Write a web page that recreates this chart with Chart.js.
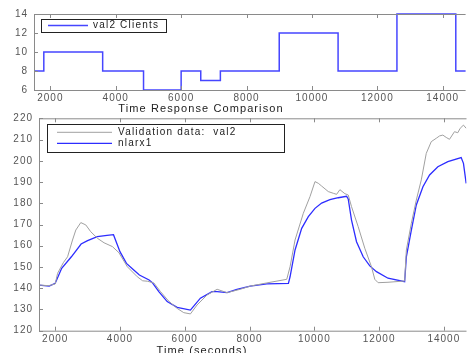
<!DOCTYPE html>
<html>
<head>
<meta charset="utf-8">
<style>
  html, body { margin: 0; padding: 0; background: #fff; }
  #wrap { position: relative; width: 467px; height: 353px; overflow: hidden; }
  canvas { position: absolute; left: 0; }
</style>
</head>
<body>
<div id="wrap">
  <canvas id="topChart" width="467" height="104" style="top:0"></canvas>
  <canvas id="bottomChart" width="467" height="249" style="top:104px"></canvas>
</div>

<script src="https://cdn.jsdelivr.net/npm/chart.js"></script>
<script>
// x ticks shared by both panels
const timeTicks = [2000, 4000, 6000, 8000, 10000, 12000, 14000];
const timeMin = 1500;
const timeMax = 14700;

// top panel: val2 Clients (step signal)
const clientTimes  = [1500, 1800, 3600, 4850, 6000, 6600, 7200, 9000, 10800, 12600, 14400, 14700];
const clientValues = [8, 10, 8, 6, 8, 7, 8, 12, 8, 14, 8, 8];

// bottom panel: Validation data: val2 (gray)
const valTimes = [1500, 1800, 2000, 2074, 2250, 2382, 2535, 2637, 2791, 2945, 3098, 3305, 3508, 3766,
  3969, 4228, 4535, 4700, 4843, 5046, 5252, 5500, 5766, 5969, 6175, 6380, 6688, 7000, 7306, 7715,
  8022, 8535, 9150, 9252, 9406, 9662, 9867, 10022, 10124, 10227, 10432, 10586, 10689, 10791, 10945,
  11048, 11150, 11355, 11560, 11766, 11868, 11971, 12276, 12790, 12843, 12997, 13150, 13304, 13458,
  13612, 13766, 13868, 13970, 14073, 14175, 14329, 14431, 14505, 14606, 14690];
const valValues = [141.5, 141.2, 142, 147, 152, 154.8, 162.7, 167.4, 170.9, 169.8, 166.6, 163.5, 161.4, 159.6,
  156.7, 150.1, 145.4, 143.5, 143.3, 142.5, 138.4, 134, 130.5, 128.5, 127.9, 132.1, 136.8, 139.5, 137.9, 139.5,
  141, 142.5, 144.2, 150.1, 162.7, 175.3, 183.1, 190.2, 189.4, 188.1, 185.5, 184.7, 184.2, 186.4, 184.5,
  183.9, 178.4, 169, 158.8, 150.1, 144.2, 142.6, 142.8, 143.4, 158, 170.6, 181.5, 191, 203.5,
  209, 210.6, 211.7, 212.1, 211, 210.1, 213.7, 213.2, 215.3, 216.8, 215.3];

// bottom panel: nlarx1 (blue)
const fitTimes = [1500, 1815, 2000, 2200, 2500, 2800, 3000, 3300, 3600, 3800, 4000, 4200, 4400, 4600,
  4900, 5000, 5200, 5458, 5766, 6175, 6483, 6843, 7000, 7306, 7612, 8022, 8535, 9201, 9252, 9406,
  9611, 9816, 10022, 10227, 10483, 10740, 10997, 11048, 11150, 11304, 11510, 11714, 11920, 12276,
  12790, 12843, 12997, 13150, 13355, 13560, 13816, 14124, 14535, 14606, 14690];
const fitValues = [141.5, 141, 142.3, 149.4, 154.8, 160.8, 162.4, 164.3, 164.9, 165.2, 157.2, 151.7, 148.9, 146.2,
  143.9, 142.6, 138.4, 133.7, 131, 129.7, 135.3, 138.4, 138.4, 137.9, 139.5, 141, 142, 142.3, 145.4, 158,
  168.2, 173.7, 177.6, 180.1, 181.7, 182.6, 183.3, 182, 172.1, 161.9, 154.8, 150.5, 147.8, 144.7,
  143.1, 154.8, 167.4, 179.2, 187.8, 193.3, 197.2, 199.6, 201.5, 198.8, 189.4];

const toPoints = (xs, ys) => xs.map((x, i) => ({ x: x, y: ys[i] }));

Chart.defaults.font.family = 'Liberation Sans, Arial, sans-serif';
Chart.defaults.font.size = 10;
Chart.defaults.color = '#555';

// axes box, inward ticks, legend and free texts (MATLAB look)
const matlabFrame = {
  id: 'matlabFrame',
  beforeDraw(chart) {
    chart.ctx.letterSpacing = '1px';
  },
  afterDraw(chart, args, opts) {
    const { ctx, chartArea: a, scales } = chart;
    ctx.save();
    ctx.strokeStyle = '#8a8a8a';
    ctx.lineWidth = 1;
    ctx.beginPath();
    ctx.moveTo(a.left + 0.5, a.top + 0.5);
    ctx.lineTo(a.right, a.top + 0.5);
    ctx.moveTo(a.left + 0.5, a.top);
    ctx.lineTo(a.left + 0.5, a.bottom + 0.5);
    ctx.lineTo(a.right, a.bottom + 0.5);
    scales.x.ticks.forEach(t => {
      const px = Math.round(scales.x.getPixelForValue(t.value)) + 0.5;
      ctx.moveTo(px, a.bottom);
      ctx.lineTo(px, a.bottom - 4);
      ctx.moveTo(px, a.top);
      ctx.lineTo(px, a.top + 4);
    });
    scales.y.ticks.forEach(t => {
      const py = Math.round(scales.y.getPixelForValue(t.value)) + 0.5;
      ctx.moveTo(a.left, py);
      ctx.lineTo(a.left + 4, py);
    });
    ctx.stroke();

    // legend box
    const lg = opts.legend;
    ctx.fillStyle = '#fff';
    ctx.fillRect(lg.x, lg.y, lg.w, lg.h);
    ctx.strokeStyle = '#222';
    ctx.strokeRect(lg.x + 0.5, lg.y + 0.5, lg.w, lg.h);
    ctx.font = '10px Liberation Sans, Arial, sans-serif';
    ctx.letterSpacing = '1.2px';
    ctx.textBaseline = 'middle';
    ctx.textAlign = 'left';
    chart.data.datasets.forEach((ds, i) => {
      const ry = lg.rows[i];
      ctx.strokeStyle = ds.borderColor;
      ctx.lineWidth = ds.borderWidth;
      ctx.beginPath();
      ctx.moveTo(lg.lineFrom, ry);
      ctx.lineTo(lg.lineTo, ry);
      ctx.stroke();
      ctx.fillStyle = '#222';
      ctx.fillText(ds.label, lg.textX, ry);
    });

    // free texts
    ctx.font = '11px Liberation Sans, Arial, sans-serif';
    ctx.letterSpacing = '1.1px';
    ctx.textAlign = 'center';
    ctx.fillStyle = '#222';
    (opts.texts || []).forEach(t => ctx.fillText(t.text, t.x, t.y));
    ctx.restore();
  }
};

function xScale(padding) {
  return {
    type: 'linear',
    min: timeMin,
    max: timeMax,
    grid: { display: false, drawTicks: false },
    border: { display: false },
    afterBuildTicks: s => { s.ticks = timeTicks.map(v => ({ value: v })); },
    afterFit: s => { s.height = padding.h; },
    ticks: { padding: padding.p, maxRotation: 0, autoSkip: false, callback: v => String(v) }
  };
}

new Chart(document.getElementById('topChart'), {
  type: 'line',
  data: {
    datasets: [{
      label: 'val2 Clients',
      data: toPoints(clientTimes, clientValues),
      borderColor: 'rgb(70,70,255)',
      borderWidth: 1.5,
      stepped: true,
      pointRadius: 0,
      fill: false,
      clip: 3
    }]
  },
  options: {
    responsive: false,
    animation: false,
    layout: { padding: { left: 0, top: 14, right: 1.4, bottom: 0 } },
    scales: {
      x: xScale({ h: 14, p: 2 }),
      y: {
        min: 6, max: 14,
        grid: { display: false, drawTicks: false },
        border: { display: false },
        afterFit: s => { s.width = 34; },
        ticks: { stepSize: 2, padding: 6 }
      }
    },
    plugins: {
      legend: { display: false },
      tooltip: { enabled: false },
      matlabFrame: {
        legend: { x: 41, y: 19, w: 125, h: 13, rows: [25.5], lineFrom: 48, lineTo: 88, textX: 93 }
      }
    }
  },
  plugins: [matlabFrame]
});

new Chart(document.getElementById('bottomChart'), {
  type: 'line',
  data: {
    datasets: [{
      label: 'Validation data:  val2',
      data: toPoints(valTimes, valValues),
      borderColor: 'rgb(160,160,160)',
      borderWidth: 1,
      pointRadius: 0,
      fill: false
    }, {
      label: 'nlarx1',
      data: toPoints(fitTimes, fitValues),
      borderColor: 'rgb(45,45,255)',
      borderWidth: 1.3,
      pointRadius: 0,
      fill: false
    }]
  },
  options: {
    responsive: false,
    animation: false,
    layout: { padding: { left: 0, top: 14.3, right: 0.5, bottom: 0 } },
    scales: {
      x: xScale({ h: 22.3, p: 2.5 }),
      y: {
        min: 120, max: 220,
        grid: { display: false, drawTicks: false },
        border: { display: false },
        afterFit: s => { s.width = 39; },
        ticks: { stepSize: 10, padding: 6 }
      }
    },
    plugins: {
      legend: { display: false },
      tooltip: { enabled: false },
      matlabFrame: {
        legend: { x: 47, y: 20, w: 237, h: 28, rows: [28.3, 39.3], lineFrom: 57, lineTo: 112, textX: 118 },
        texts: [
          { text: 'Time Response Comparison', x: 201, y: 5 },
          { text: 'Time (seconds)', x: 202, y: 247 }
        ]
      }
    }
  },
  plugins: [matlabFrame]
});
</script>
</body>
</html>
